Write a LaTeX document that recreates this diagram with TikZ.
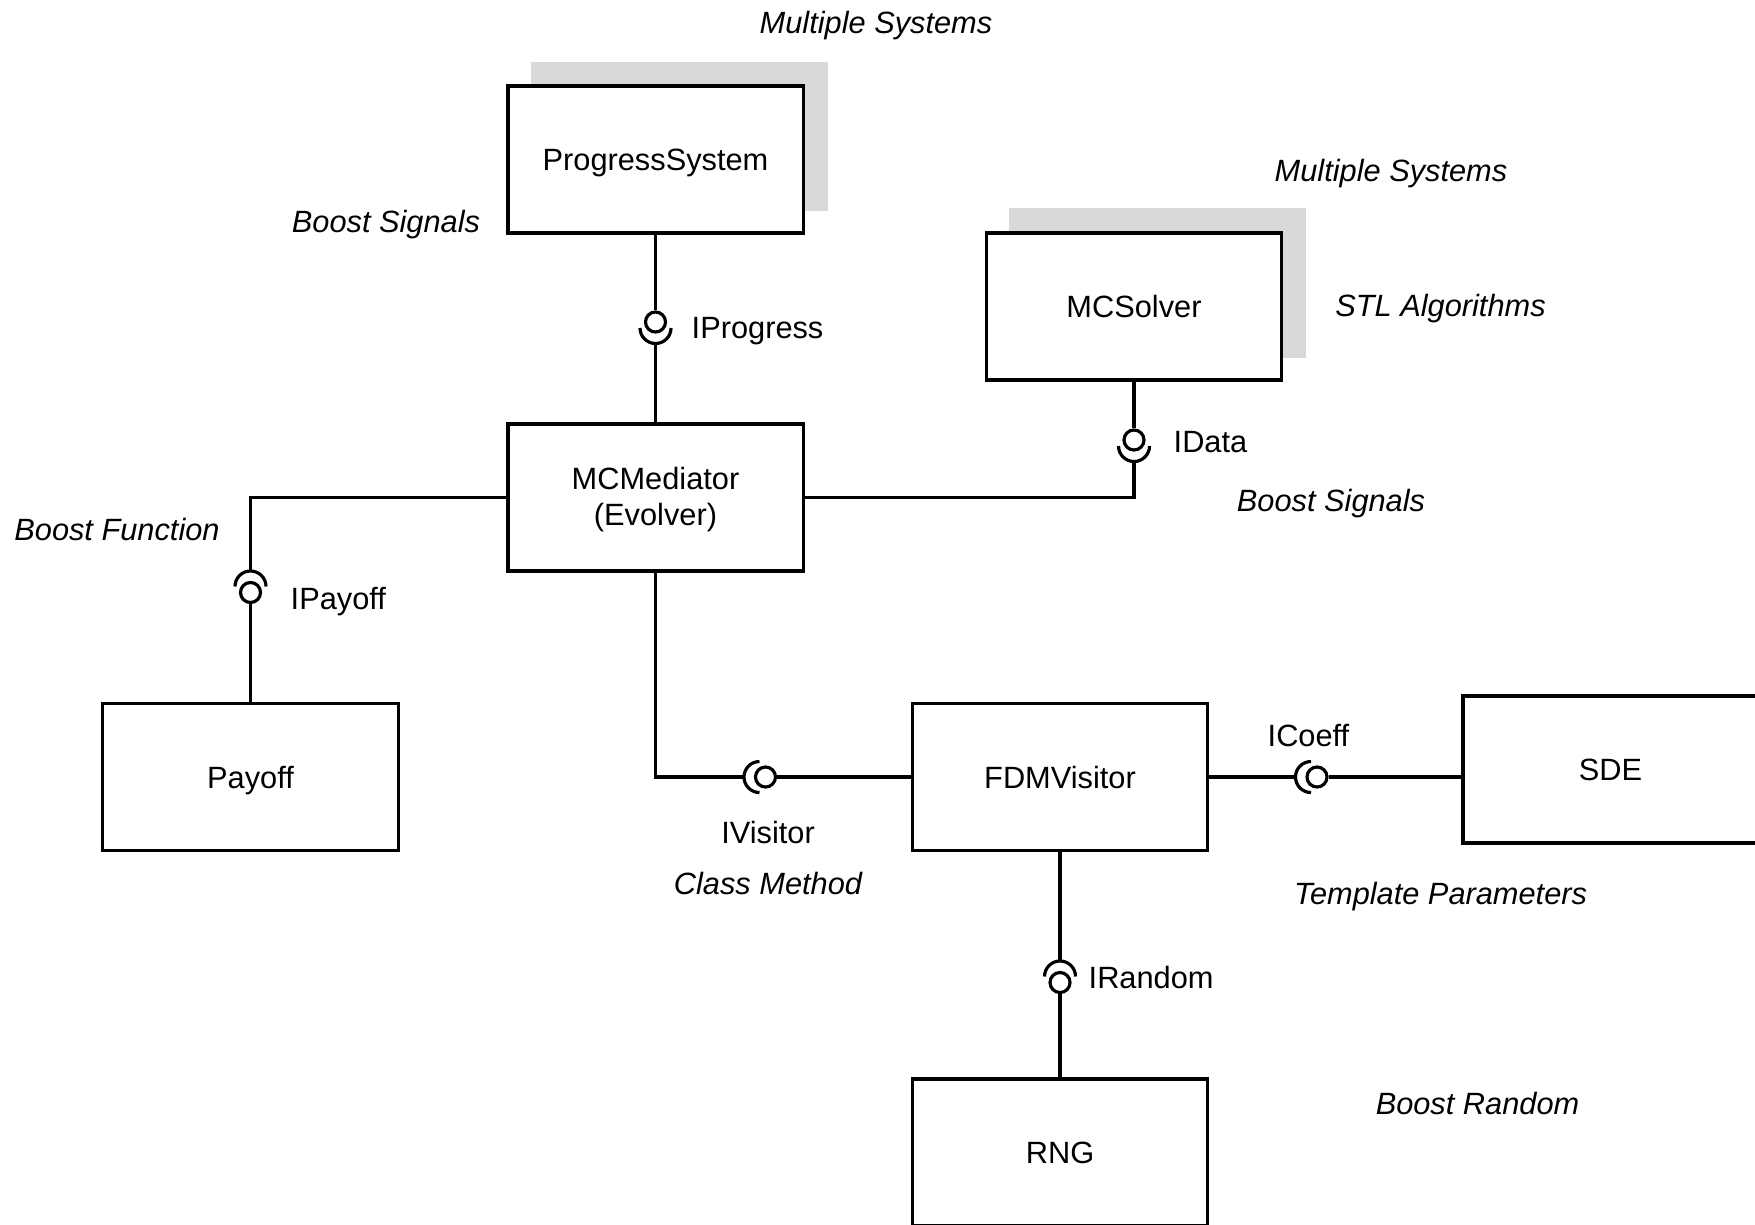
\documentclass[tikz,border=0pt]{standalone}
\usepackage{fontspec}
\setmainfont{Liberation Sans}
\begin{document}
\begin{tikzpicture}[x=0.01cm, y=-0.01cm,
  every node/.style={font=\fontsize{8.75pt}{10.5pt}\selectfont},
  comp/.style={draw, line width=0.9pt, fill=white, minimum width=2.95cm,
    minimum height=1.47cm, inner sep=0pt, align=center},
  oneline/.style={text height=6.3pt, text depth=0pt},
  twoline/.style={text height=16.2pt, text depth=0pt},
  stack/.style={fill=gray!30, draw=none},
  wire/.style={line width=0.9pt},
  ball/.style={circle, draw, line width=0.9pt, minimum size=0.2cm, inner sep=0pt},
  note/.style={font=\fontsize{8.75pt}{10.5pt}\selectfont\itshape, inner sep=0pt, anchor=base},
  iface/.style={inner sep=0pt, anchor=base west},
]
\useasboundingbox (0,0) rectangle (1755,1224);
\clip (0,0) rectangle (1755,1224);

% stacked copies behind the multiple systems
\fill[stack] (531,62) rectangle (828,211);
\fill[stack] (1009,208) rectangle (1306,358);

% components
\node[comp, oneline] (PS)  at (655.5,159.5) {ProgressSystem};
\node[comp, oneline] (MCS) at (1134,306.5)  {MCSolver};
\node[comp, twoline] (MCM) at (655.5,497.5) {MCMediator\\(Evolver)};
\node[comp, oneline] (PAY) at (250.5,777)   {Payoff};
\node[comp, oneline] (FDM) at (1060,777)    {FDMVisitor};
\node[comp, oneline] (SDE) at (1610.5,769.5){SDE};
\node[comp, oneline] (RNG) at (1060,1152.5) {RNG};

% provided interfaces (balls)
\node[ball] (bProg)  at (655.5,322)  {};
\node[ball] (bData)  at (1134,440)   {};
\node[ball] (bPay)   at (250.5,592.5){};
\node[ball] (bVis)   at (765.5,777)  {};
\node[ball] (bCoeff) at (1317,777)   {};
\node[ball] (bRand)  at (1060,982.5) {};

% required interfaces (sockets)
\draw[wire] (640,328) arc[start angle=180, end angle=360, radius=0.155cm];
\draw[wire] (1118.5,446) arc[start angle=180, end angle=360, radius=0.155cm];
\draw[wire] (235,586.5) arc[start angle=180, end angle=0, radius=0.155cm];
\draw[wire] (759.5,761.5) arc[start angle=90, end angle=270, radius=0.155cm];
\draw[wire] (1311,761.5) arc[start angle=90, end angle=270, radius=0.155cm];
\draw[wire] (1044.5,976.5) arc[start angle=180, end angle=0, radius=0.155cm];
\coordinate (sProg)  at (655.5,343.5);
\coordinate (sData)  at (1134,461.5);
\coordinate (sPay)   at (250.5,571);
\coordinate (sVis)   at (744,777);
\coordinate (sCoeff) at (1295.5,777);
\coordinate (sRand)  at (1060,961);

% connectors
\draw[wire] (PS.south) -- (bProg.north);
\draw[wire] (sProg) -- (MCM.north);
\draw[wire] (MCS.south) -- (bData.north);
\draw[wire] (sData) |- (MCM.east);
\draw[wire] (MCM.west) -| (sPay);
\draw[wire] (bPay.south) -- (PAY.north);
\draw[wire] (MCM.south) |- (sVis);
\draw[wire] (bVis.east) -- (FDM.west);
\draw[wire] (FDM.east) -- (sCoeff);
\draw[wire] (bCoeff.east) -- (bCoeff.east -| SDE.west);
\draw[wire] (FDM.south) -- (sRand);
\draw[wire] (bRand.south) -- (RNG.north);

% interface names
\node[iface] (lProg)  at (691,338)  {IProgress};
\node[iface] (lData)  at (1173,452) {IData};
\node[iface] (lPay)   at (290,609)  {IPayoff};
\node[inner sep=0pt, anchor=base] (lVis) at (768,843) {IVisitor};
\node[iface] (lCoeff) at (1267,746) {ICoeff};
\node[iface] (lRand)  at (1088,988) {IRandom};

% technology notes
\node[note] (n1) at (876,33)     {Multiple Systems};
\node[note] (n2) at (386,232)    {Boost Signals};
\node[note] (n3) at (1391,181)   {Multiple Systems};
\node[note] (n4) at (1440.5,316) {STL Algorithms};
\node[note] (n5) at (1331,511)   {Boost Signals};
\node[note] (n6) at (117,540)    {Boost Function};
\node[note] (n7) at (768,894)    {Class Method};
\node[note] (n8) at (1440.5,904) {Template Parameters};
\node[note] (n9) at (1477.5,1114){Boost Random};
\end{tikzpicture}
\end{document}
